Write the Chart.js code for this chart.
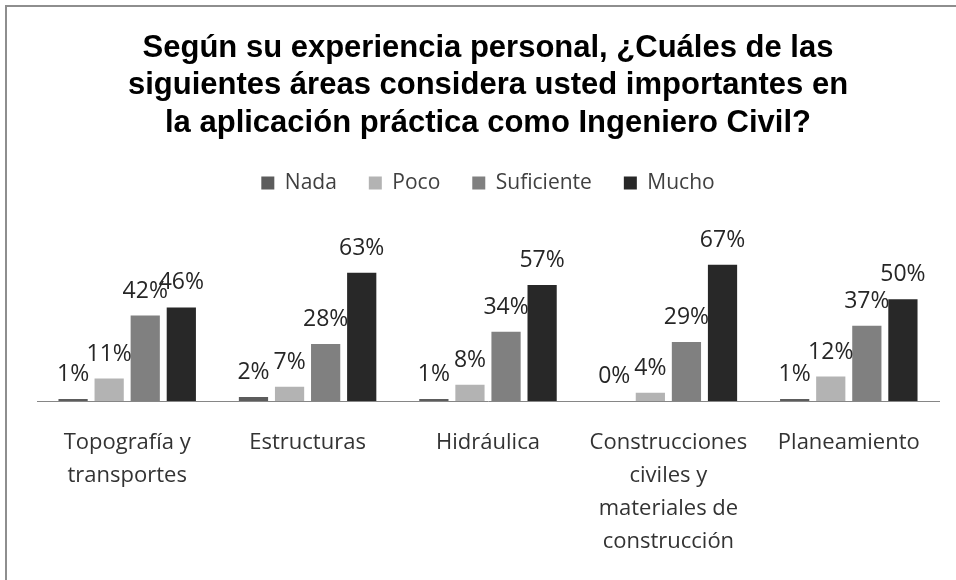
<!DOCTYPE html>
<html>
<head>
<meta charset="utf-8">
<script src="https://cdn.jsdelivr.net/npm/chart.js@4/dist/chart.umd.min.js"></script>
<style>
  html, body { margin: 0; padding: 0; background: #ffffff; }
  #wrap { position: relative; width: 956px; height: 580px; }
</style>
</head>
<body>
<div id="wrap"><canvas id="c" width="956" height="580"></canvas></div>
<script>
const titleLines = [
  "Según su experiencia personal, ¿Cuáles de las",
  "siguientes áreas considera usted importantes en",
  "la aplicación práctica como Ingeniero Civil?"
];
const categories = [
  ["Topografía y", "transportes"],
  ["Estructuras"],
  ["Hidráulica"],
  ["Construcciones", "civiles y", "materiales de", "construcción"],
  ["Planeamiento"]
];
const seriesNames = ["Nada", "Poco", "Suficiente", "Mucho"];
const nada       = [1, 2, 1, 0, 1];
const poco       = [11, 7, 8, 4, 12];
const suficiente = [42, 28, 34, 29, 37];
const mucho      = [46, 63, 57, 67, 50];
const seriesColors = ["#5c5c5c", "#b3b3b3", "#808080", "#282828"];

const borderPlugin = {
  id: 'frame',
  beforeDraw(chart) {
    const ctx = chart.ctx;
    ctx.save();
    ctx.fillStyle = '#ffffff';
    ctx.fillRect(0, 0, chart.width, chart.height);
    ctx.fillStyle = '#8e8e8e';
    ctx.fillRect(5, 5, chart.width - 5, 2);
    ctx.fillRect(5, 5, 2, chart.height - 5);
    ctx.restore();
  }
};

const valueLabels = {
  id: 'valueLabels',
  afterDatasetsDraw(chart) {
    const ctx = chart.ctx;
    ctx.save();
    ctx.font = '23px "Open Sans"';
    ctx.fillStyle = '#262626';
    ctx.textAlign = 'center';
    ctx.textBaseline = 'alphabetic';
    chart.data.datasets.forEach((ds, i) => {
      const meta = chart.getDatasetMeta(i);
      meta.data.forEach((bar, j) => {
        ctx.fillText(ds.data[j] + '%', bar.x, bar.y - 18);
      });
    });
    ctx.restore();
  }
};

const allSeries = [nada, poco, suficiente, mucho];

new Chart(document.getElementById('c'), {
  type: 'bar',
  data: {
    labels: categories,
    datasets: allSeries.map((vals, i) => ({
      label: seriesNames[i],
      data: vals,
      backgroundColor: seriesColors[i],
      borderWidth: 0,
      barPercentage: 0.81,
      categoryPercentage: 0.8
    }))
  },
  options: {
    responsive: false,
    animation: false,
    devicePixelRatio: 1,
    layout: { padding: { left: 37, right: 17, top: 0, bottom: 0 } },
    plugins: {
      title: {
        display: true,
        text: titleLines,
        color: '#000000',
        font: { family: '"Liberation Sans", Arial, sans-serif', size: 31, weight: 'bold', lineHeight: 1.2 },
        padding: { top: 30, bottom: -1 }
      },
      legend: {
        display: true,
        position: 'top',
        labels: {
          color: '#404040',
          font: { family: '"Open Sans"', size: 21 },
          boxWidth: 13,
          boxHeight: 13,
          padding: 32
        }
      },
      tooltip: { enabled: false }
    },
    scales: {
      x: {
        grid: { display: false, drawTicks: true, tickLength: 3 },
        border: { display: true, color: '#868686', width: 1 },
        ticks: {
          color: '#333333',
          font: { family: '"Open Sans"', size: 22, lineHeight: 1.5 },
          padding: 22,
          autoSkip: false,
          maxRotation: 0
        }
      },
      y: {
        display: false,
        min: 0,
        max: 97
      }
    }
  },
  plugins: [borderPlugin, valueLabels]
});
</script>
</body>
</html>
